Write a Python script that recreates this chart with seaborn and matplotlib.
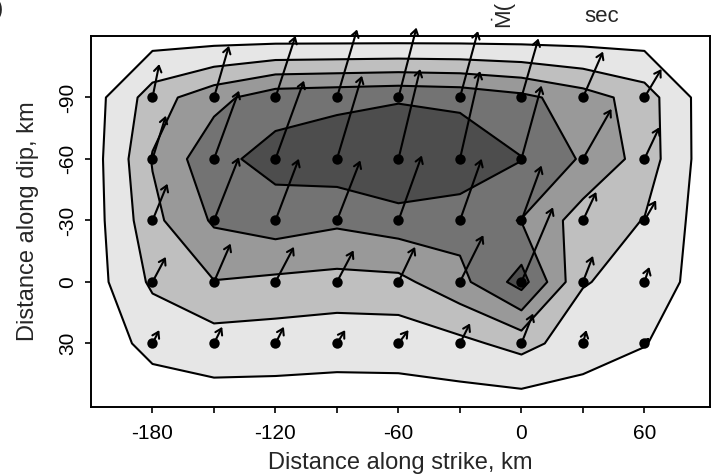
import numpy as np
import pandas as pd
import matplotlib
matplotlib.use("Agg")
import matplotlib.pyplot as plt
import seaborn as sns

# Subfault centres along strike and down dip (km)
strike_km = [-180, -150, -120, -90, -60, -30, 0, 30, 60]
dip_km = [-90, -60, -30, 0, 30]
# Fault-plane edges where slip tapers to zero
strike_edges = [-210, 90]
dip_edges = [-120, 60]

# Slip amplitude at each subfault (rows follow dip_km, columns follow strike_km)
slip_dip_m90 = [3.3, 5.0, 6.4, 6.6, 6.8, 6.6, 5.9, 4.7, 3.3]
slip_dip_m60 = [4.1, 6.6, 7.5, 8.0, 8.8, 8.2, 7.05, 5.3, 3.4]
slip_dip_m30 = [3.6, 5.7, 6.3, 5.8, 6.3, 6.1, 5.45, 3.3, 2.45]
slip_dip_0 = [2.8, 3.95, 3.68, 3.51, 3.6, 5.05, 7.6, 2.6, 1.9]
slip_dip_30 = [1.2, 1.8, 1.7, 1.5, 1.55, 2.1, 3.05, 1.6, 0.85]

# Slip vector components drawn at each subfault (km on the plot)
vec_strike = [
    [3.3, 7.3, 9.8, 9.8, 8.8, 8.8, 8.3, 9.8, 8.3],
    [6.5, 12.2, 13.9, 12.2, 10.6, 9.8, 9.8, 13.9, 7.3],
    [7.3, 12.2, 11.4, 11.4, 11.4, 10.6, 9.8, 6.5, 5.7],
    [6.5, 8.1, 9.0, 8.1, 8.1, 11.4, 15.4, 4.9, 2.4],
    [3.3, 4.0, 4.1, 4.0, 4.9, 4.9, 5.7, 1.7, 2.4],
]
vec_dip = [
    [-16.3, -25.2, -30.1, -33.2, -34.1, -32.4, -28.8, -22.4, -13.9],
    [-21.1, -33.3, -38.2, -40.6, -43.9, -42.9, -35.8, -24.4, -15.5],
    [-17.9, -30.9, -30.1, -29.3, -31.7, -30.1, -26.8, -13.9, -9.8],
    [-12.2, -18.7, -17.1, -15.4, -17.1, -22.8, -36.4, -12.7, -7.3],
    [-6.5, -8.1, -8.1, -6.5, -6.5, -9.8, -14.6, -6.5, -2.9],
]

contour_levels = [0.8, 2.5, 4.0, 5.5, 7.0, 20.0]
fill_colors = ["#e6e6e6", "#bfbfbf", "#999999", "#737373", "#4d4d4d"]

x_ticks = [-180, -150, -120, -90, -60, -30, 0, 30, 60]
x_tick_labels = ["-180", "", "-120", "", "-60", "", "0", "", "60"]
y_ticks = [-90, -60, -30, 0, 30]
y_tick_labels = ["-90", "-60", "-30", "0", "30"]

sns.set_style("ticks")
plt.rcParams["font.family"] = ["Liberation Sans", "DejaVu Sans"]

fig = plt.figure(figsize=(7.13, 4.76), dpi=100)
W, H = 713, 476
ax = fig.add_axes([91 / W, 1 - 407 / H, (710 - 91) / W, (407 - 36) / H])

# Slip grid padded with zero slip on the fault edges
slip = np.array([slip_dip_m90, slip_dip_m60, slip_dip_m30, slip_dip_0, slip_dip_30])
slip_full = np.pad(slip, 1, constant_values=0.0)
gx = np.array([strike_edges[0]] + strike_km + [strike_edges[1]])
gy = np.array([dip_edges[0]] + dip_km + [dip_edges[1]])

ax.contourf(gx, gy, slip_full, levels=contour_levels, colors=fill_colors, zorder=1)
ax.contour(gx, gy, slip_full, levels=contour_levels[:-1], colors="black",
           linewidths=1.5, zorder=2)

# Slip vectors
for i, yd in enumerate(dip_km):
    for j, xs in enumerate(strike_km):
        u = vec_strike[i][j]
        v = vec_dip[i][j]
        ax.annotate("", xy=(xs + u, yd + v), xytext=(xs, yd),
                    arrowprops=dict(arrowstyle="->,head_length=0.42,head_width=0.27",
                                    lw=1.5, color="black", shrinkA=0, shrinkB=0),
                    annotation_clip=False, zorder=4)

# Subfault centres
sx, sy = np.meshgrid(strike_km, dip_km)
nodes = pd.DataFrame({"strike": sx.ravel(), "dip": sy.ravel()})
sns.scatterplot(data=nodes, x="strike", y="dip", color="black", s=56,
                linewidth=0, zorder=5, legend=False, ax=ax)

ax.set_xlim(-210, 92)
ax.set_ylim(61, -120)
ax.set_xticks(x_ticks)
ax.set_xticklabels(x_tick_labels)
ax.set_yticks(y_ticks)
ax.set_yticklabels(y_tick_labels, rotation=90, va="center")
ax.tick_params(direction="out", length=4.0, width=1.2, labelsize=15,
               colors="black")
ax.tick_params(axis="x", pad=8)
ax.tick_params(axis="y", pad=6)
for s in ax.spines.values():
    s.set_linewidth(1.4)
    s.set_color("black")
    s.set_visible(True)

ax.set_xlabel("Distance along strike, km", fontsize=17, labelpad=7)
ax.set_ylabel("Distance along dip, km", fontsize=17, labelpad=14)

# Partial colour-key caption above the panel and the panel tag
fig.text(602 / W, 1 - 16 / H, "sec", ha="center", va="center", fontsize=16)
fig.text(502 / W, 1 - 27 / H, "\u1e40(", rotation=90, ha="center", va="bottom",
         fontsize=16)
fig.text(4 / W, 1 - 10 / H, "(b)", ha="right", va="center", fontsize=16)

fig.savefig("out.png", dpi=100)
